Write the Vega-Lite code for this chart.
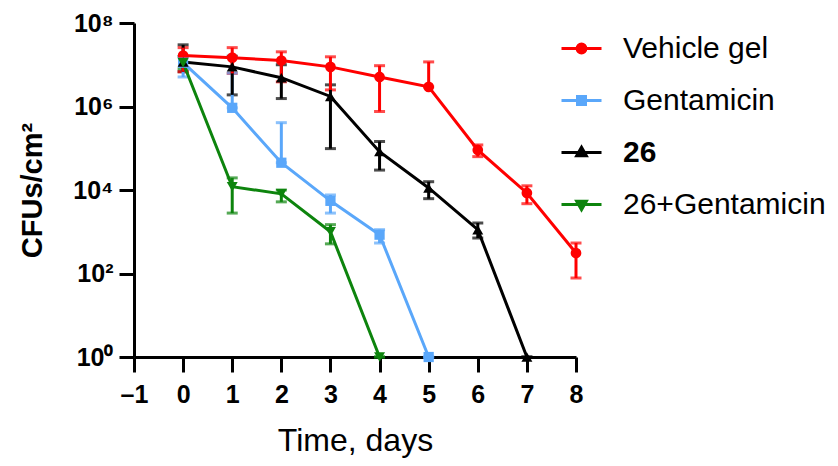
{
  "$schema": "https://vega.github.io/schema/vega-lite/v6.json",
  "width": 442,
  "height": 334,
  "autosize": "none",
  "padding": {"left": 134, "top": 23, "right": 262, "bottom": 109},
  "background": "white",
  "config": {"view": {"stroke": null}, "font": "Liberation Sans"},
  "data": {
    "values": [
      {"series": "26+Gentamicin", "day": 0, "cfu": 11200000, "lo": 8000000, "hi": 15800000},
      {"series": "26+Gentamicin", "day": 1, "cfu": 12000, "lo": 2800, "hi": 19500},
      {"series": "26+Gentamicin", "day": 2, "cfu": 8100, "lo": 5200, "hi": 10000},
      {"series": "26+Gentamicin", "day": 3, "cfu": 1000, "lo": 513, "hi": 1480},
      {"series": "26+Gentamicin", "day": 4, "cfu": 1, "lo": 1, "hi": 1},
      {"series": "Gentamicin", "day": 0, "cfu": 11200000, "lo": 5100000, "hi": 15500000},
      {"series": "Gentamicin", "day": 1, "cfu": 930000, "lo": 930000, "hi": 6300000},
      {"series": "Gentamicin", "day": 2, "cfu": 45000, "lo": 45000, "hi": 410000},
      {"series": "Gentamicin", "day": 3, "cfu": 5500, "lo": 2800, "hi": 7600},
      {"series": "Gentamicin", "day": 4, "cfu": 851, "lo": 537, "hi": 1120},
      {"series": "Gentamicin", "day": 5, "cfu": 1, "lo": 1, "hi": 1},
      {"series": "26", "day": 0, "cfu": 11700000, "lo": 6800000, "hi": 30000000},
      {"series": "26", "day": 1, "cfu": 8900000, "lo": 1900000, "hi": 16000000},
      {"series": "26", "day": 2, "cfu": 4900000, "lo": 1550000, "hi": 10000000},
      {"series": "26", "day": 3, "cfu": 1740000, "lo": 98000, "hi": 3300000},
      {"series": "26", "day": 4, "cfu": 83000, "lo": 30000, "hi": 145000},
      {"series": "26", "day": 5, "cfu": 11200, "lo": 6200, "hi": 15800},
      {"series": "26", "day": 6, "cfu": 1120, "lo": 708, "hi": 1620},
      {"series": "26", "day": 7, "cfu": 1, "lo": 1, "hi": 1},
      {"series": "Vehicle gel", "day": 0, "cfu": 16600000, "lo": 6800000, "hi": 25700000},
      {"series": "Vehicle gel", "day": 1, "cfu": 14800000, "lo": 6200000, "hi": 25700000},
      {"series": "Vehicle gel", "day": 2, "cfu": 12600000, "lo": 3900000, "hi": 20400000},
      {"series": "Vehicle gel", "day": 3, "cfu": 8900000, "lo": 2500000, "hi": 15500000},
      {"series": "Vehicle gel", "day": 4, "cfu": 5100000, "lo": 760000, "hi": 9500000},
      {"series": "Vehicle gel", "day": 5, "cfu": 2950000, "lo": 2950000, "hi": 11700000},
      {"series": "Vehicle gel", "day": 6, "cfu": 91000, "lo": 63000, "hi": 120000},
      {"series": "Vehicle gel", "day": 7, "cfu": 8500, "lo": 4700, "hi": 12600},
      {"series": "Vehicle gel", "day": 8, "cfu": 309, "lo": 78, "hi": 537}
    ]
  },
  "encoding": {
    "x": {
      "field": "day",
      "type": "quantitative",
      "scale": {"domain": [-1, 8], "nice": false, "zero": false},
      "axis": {
        "values": [-1, 0, 1, 2, 3, 4, 5, 6, 7, 8],
        "labelExpr": "datum.value < 0 ? '–' + abs(datum.value) : '' + datum.value",
        "title": "Time, days",
        "grid": false,
        "domainColor": "black",
        "domainWidth": 3,
        "tickColor": "black",
        "tickWidth": 3,
        "tickSize": 15,
        "labelColor": "black",
        "labelFont": "Liberation Sans",
        "labelFontSize": 25,
        "labelFontWeight": "bold",
        "labelPadding": 10,
        "labelFlush": false,
        "titleFont": "Liberation Sans",
        "titleFontSize": 32,
        "titleFontWeight": "normal",
        "titleColor": "black",
        "titlePadding": 18
      }
    },
    "color": {
      "field": "series",
      "type": "nominal",
      "scale": {
        "domain": ["Vehicle gel", "Gentamicin", "26", "26+Gentamicin"],
        "range": ["#ff0000", "#5aa7fa", "#000000", "#0d840d"]
      },
      "legend": {
        "orient": "none",
        "legendX": 426,
        "legendY": 4,
        "title": null,
        "labelFont": "Liberation Sans",
        "labelFontSize": 30,
        "labelColor": "black",
        "labelLimit": 400,
        "symbolSize": 1600,
        "rowPadding": 15,
        "labelOffset": 20,
        "symbolStrokeWidth": 3,
        "encode": {
          "symbols": {
            "update": {
              "shape": {"signal": "datum.value === 'Vehicle gel' ? 'M-1,0H1M0.22,0A0.22,0.22,0,1,1,-0.22,0A0.22,0.22,0,1,1,0.22,0Z' : datum.value === 'Gentamicin' ? 'M-1,0H1M-0.2,-0.2H0.2V0.2H-0.2Z' : datum.value === '26' ? 'M-1,0H1M0,-0.26L0.24,0.16L-0.24,0.16Z' : 'M-1,0H1M0,0.26L0.24,-0.16L-0.24,-0.16Z'"},
              "fill": {"signal": "scale('color', datum.value)"},
              "stroke": {"signal": "scale('color', datum.value)"},
              "strokeWidth": {"value": 3},
              "opacity": {"value": 1}
            }
          },
          "labels": {
            "update": {
              "fontWeight": {"signal": "datum.value === '26' ? 'bold' : 'normal'"}
            }
          }
        }
      }
    }
  },
  "layer": [
    {
      "mark": {"type": "errorbar", "ticks": {"size": 11, "thickness": 3}, "thickness": 3},
      "encoding": {
        "y": {
          "field": "lo",
          "type": "quantitative",
          "scale": {"type": "log", "domain": [1, 100000000], "nice": false},
          "axis": {
            "values": [1, 100, 10000, 1000000, 100000000],
            "labelExpr": "datum.value >= 1e8 ? '10⁸' : datum.value >= 1e6 ? '10⁶' : datum.value >= 1e4 ? '10⁴' : datum.value >= 100 ? '10²' : '10⁰'",
            "title": "CFUs/cm²",
            "grid": false,
            "domainColor": "black",
            "domainWidth": 3,
            "tickColor": "black",
            "tickWidth": 3,
            "tickSize": 15,
            "labelColor": "black",
            "labelFont": "Liberation Sans",
            "labelFontSize": 25,
            "labelFontWeight": "bold",
            "labelPadding": 6,
            "labelFlush": false,
            "titleFont": "Liberation Sans",
            "titleFontSize": 29,
            "titleFontWeight": "bold",
            "titleColor": "black",
            "titlePadding": 25
          }
        },
        "y2": {"field": "hi"}
      }
    },
    {
      "mark": {"type": "line", "strokeWidth": 3},
      "encoding": {
        "y": {"field": "cfu", "type": "quantitative"}
      }
    },
    {
      "transform": [{"filter": "datum.series === 'Vehicle gel'"}],
      "mark": {"type": "point", "filled": true, "opacity": 1, "size": 115, "shape": "circle"},
      "encoding": {"y": {"field": "cfu", "type": "quantitative"}}
    },
    {
      "transform": [{"filter": "datum.series === 'Gentamicin'"}],
      "mark": {"type": "point", "filled": true, "opacity": 1, "size": 105, "shape": "square"},
      "encoding": {"y": {"field": "cfu", "type": "quantitative"}}
    },
    {
      "transform": [{"filter": "datum.series === '26'"}],
      "mark": {"type": "point", "filled": true, "opacity": 1, "size": 120, "shape": "triangle-up"},
      "encoding": {"y": {"field": "cfu", "type": "quantitative"}}
    },
    {
      "transform": [{"filter": "datum.series === '26+Gentamicin'"}],
      "mark": {"type": "point", "filled": true, "opacity": 1, "size": 120, "shape": "triangle-down"},
      "encoding": {"y": {"field": "cfu", "type": "quantitative"}}
    }
  ]
}
